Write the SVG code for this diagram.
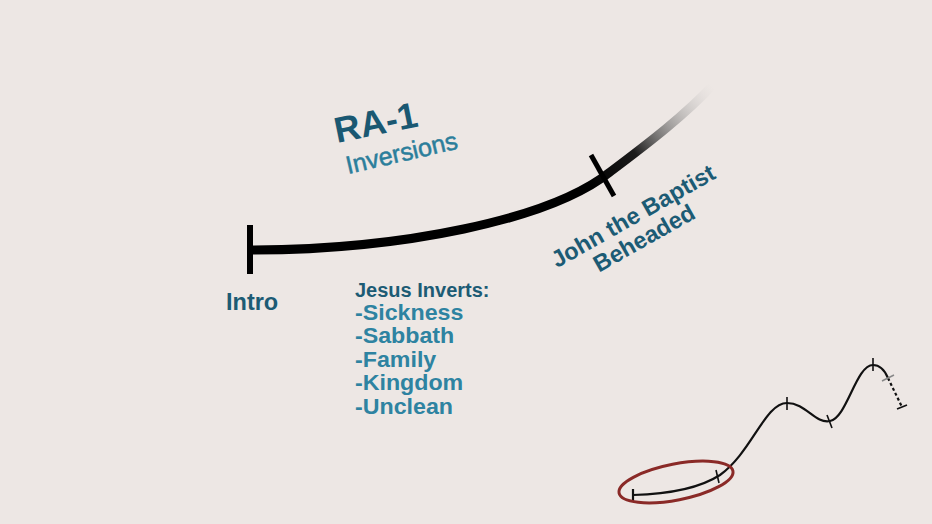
<svg xmlns="http://www.w3.org/2000/svg" width="932" height="524" viewBox="0 0 932 524">
<style>
  .t { font-family: "Liberation Sans", Arial, sans-serif; font-weight: bold; }
  .dark { fill: #1c5b74; }
  .light { fill: #2e83a1; }
  .thin { fill: none; stroke: #111; stroke-width: 2.2; stroke-linecap: round; }
</style>
<defs>
  <linearGradient id="fade" gradientUnits="userSpaceOnUse" x1="590" y1="185" x2="712" y2="85">
    <stop offset="0" stop-color="#000" stop-opacity="1"/>
    <stop offset="0.35" stop-color="#111" stop-opacity="0.95"/>
    <stop offset="1" stop-color="#ccc" stop-opacity="0"/>
  </linearGradient>
</defs>
<rect x="0" y="0" width="932" height="524" fill="#ede7e4"/>

<g id="connectors">
  <path d="M250,250 C 400,250 550,220 610,172 C 650,142 685,115 714,84" fill="none" stroke="url(#fade)" stroke-width="9"/>
  <path d="M633,495 C 670,494 700,488 720,475 C 752,452 765,403 787,403 C 806,403 815,424 830,421 C 847,418 856,365 873,365 C 880,365 885,371 888,378" class="thin"/>
  <path d="M888,378 L902,407" fill="none" stroke="#111" stroke-width="2.2" stroke-dasharray="3,2.5"/>
</g>

<g id="intro">
  <line x1="250" y1="225" x2="250" y2="274" stroke="#000" stroke-width="6"/>
  <text class="t dark" x="226" y="310" font-size="23.5">Intro</text>
</g>

<g id="john">
  <line x1="591" y1="155" x2="614" y2="196" stroke="#000" stroke-width="5"/>
  <text class="t dark" font-size="23.5" text-anchor="middle" transform="translate(637,223) rotate(-29.5)">John the Baptist</text>
  <text class="t dark" font-size="23.5" text-anchor="middle" transform="translate(648,245) rotate(-29.5)">Beheaded</text>
</g>

<g id="title">
  <text class="t" fill="#1a5872" font-size="36" transform="translate(337,143) rotate(-11.5)">RA-1</text>
  <text fill="#2b7e9b" font-family="'Liberation Sans', Arial, sans-serif" font-size="25" stroke="#2b7e9b" stroke-width="0.5" transform="translate(348,174) rotate(-13)">Inversions</text>
</g>

<g id="list">
  <text class="t dark" x="355" y="297" font-size="20">Jesus Inverts:</text>
  <g transform="translate(355,0) scale(1.08,1)">
    <text class="t light" font-size="21.5">
      <tspan x="0" y="320">-Sickness</tspan>
      <tspan x="0" y="343.4">-Sabbath</tspan>
      <tspan x="0" y="366.8">-Family</tspan>
      <tspan x="0" y="390.2">-Kingdom</tspan>
      <tspan x="0" y="413.6">-Unclean</tspan>
    </text>
  </g>
</g>

<g id="mini">
  <line x1="633" y1="489" x2="633" y2="501" stroke="#111" stroke-width="2.2"/>
  <line x1="716" y1="470" x2="719" y2="483" stroke="#111" stroke-width="1.6"/>
  <line x1="787" y1="397" x2="787" y2="410" stroke="#111" stroke-width="1.6"/>
  <line x1="827" y1="415" x2="832" y2="428" stroke="#111" stroke-width="1.6"/>
  <line x1="873" y1="358" x2="873" y2="371" stroke="#111" stroke-width="1.6"/>
  <line x1="882" y1="381" x2="894" y2="375" stroke="#888" stroke-width="1.6"/>
  <line x1="897" y1="409" x2="907" y2="405" stroke="#111" stroke-width="1.6"/>
  <ellipse cx="676" cy="482" rx="58" ry="18" transform="rotate(-11 676 482)" fill="none" stroke="#8a2a27" stroke-width="3"/>
</g>
</svg>
